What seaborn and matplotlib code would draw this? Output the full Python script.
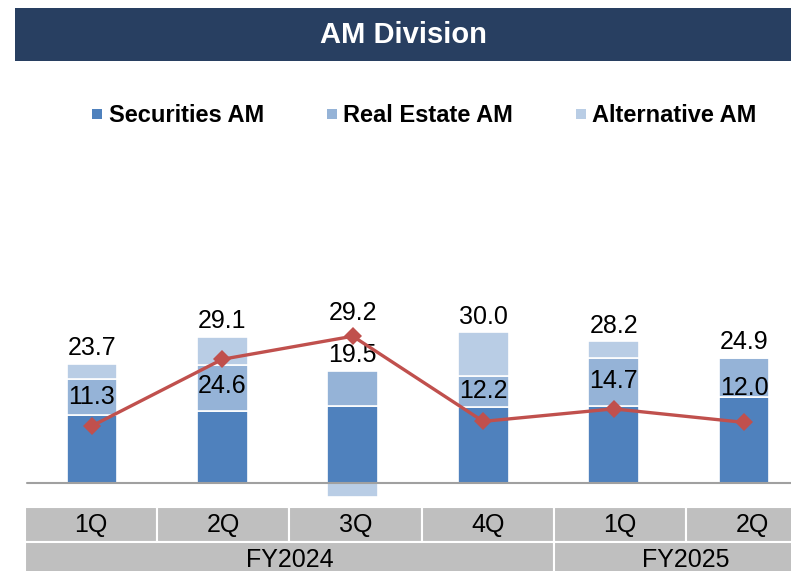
import numpy as np
import pandas as pd
import seaborn as sns
from matplotlib import pyplot as plt
from matplotlib.lines import Line2D
from matplotlib.patches import Rectangle

# data
periods = ["FY2024 1Q", "FY2024 2Q", "FY2024 3Q", "FY2024 4Q", "FY2025 1Q", "FY2025 2Q"]
quarter_labels = ["1Q", "2Q", "3Q", "4Q", "1Q", "2Q"]
fiscal_years = ["FY2024", "FY2025"]
fy_spans = [4, 2]
securities = [13.5, 14.3, 15.2, 15.0, 15.2, 17.0]
real_estate = [7.1, 9.2, 7.1, 6.2, 9.7, 7.9]
alternative = [3.1, 5.6, -2.8, 8.8, 3.3, 0.0]
totals = [23.7, 29.1, 19.5, 30.0, 28.2, 24.9]
line_values = [11.3, 24.6, 29.2, 12.2, 14.7, 12.0]

# styling
C_SEC, C_RE, C_ALT = "#4F81BD", "#95B3D7", "#B9CDE5"
C_LINE = "#C0504D"
C_BANNER = "#283F61"
C_CELL = "#BFBFBF"
line_label_dy = [21, -19.5, 17, 22, 20, 25]  # points, + above / - below marker

sns.set_theme(style="white")
plt.rcParams["font.family"] = ["Liberation Sans", "DejaVu Sans"]
plt.rcParams["text.color"] = "black"

W, H = 791, 571
fig = plt.figure(figsize=(W / 100, H / 100), dpi=100)

# title banner
fig.patches.append(Rectangle((15 / W, 1 - 61 / H), 1, 53 / H, transform=fig.transFigure,
                             facecolor=C_BANNER, edgecolor="none", zorder=0))
fig.text((15 + W) / 2 / W, 1 - 35 / H, "AM Division", color="white", fontsize=21,
         fontweight="bold", ha="center", va="center")

# main axes: x=0 at px 92, 130.4 px per category; baseline at px 482.5, 5.01 px per unit
top_px, bot_px = 130, 505
ax = fig.add_axes([0, 1 - bot_px / H, 1, (bot_px - top_px) / H])

df = pd.DataFrame({"period": periods, "sec": securities, "re": real_estate, "alt": alternative})
sec = np.array(securities)
re_ = np.array(real_estate)
alt = np.array(alternative)
alt_bottom = np.where(alt >= 0, sec + re_, 0.0)

bar_kw = dict(width=0.39, errorbar=None, saturation=1, edgecolor="white", linewidth=1.2, ax=ax)
sns.barplot(data=df, x="period", y="sec", color=C_SEC, **bar_kw)
sns.barplot(data=df, x="period", y="re", color=C_RE, bottom=sec, **bar_kw)
sns.barplot(data=df, x="period", y="alt", color=C_ALT, bottom=alt_bottom, **bar_kw)

x = np.arange(len(periods))
sns.lineplot(x=x, y=line_values, ax=ax, color=C_LINE, linewidth=2.4, marker="D",
             markersize=9, markeredgewidth=0, zorder=5)

ax.axhline(0, xmin=27 / W, color="#A0A0A0", linewidth=1.5, zorder=1)

pos_top = sec + re_ + np.clip(alt, 0, None)
for i in range(len(periods)):
    ax.annotate(f"{totals[i]:.1f}", (x[i], pos_top[i]), xytext=(0, 11),
                textcoords="offset points", ha="center", va="center", fontsize=18,
                color="black")
    ax.annotate(f"{line_values[i]:.1f}", (x[i], line_values[i]), xytext=(0, line_label_dy[i]),
                textcoords="offset points", ha="center", va="center", fontsize=18,
                color="black", zorder=6)

ax.set_xlim(-92 / 130.4, (W - 92) / 130.4)
ax.set_ylim(-(bot_px - 482.5) / 5.01, (482.5 - top_px) / 5.01)
ax.set_xlabel("")
ax.set_ylabel("")
ax.set_xticks([])
ax.set_yticks([])
sns.despine(ax=ax, left=True, bottom=True)

# legend
handles = [Line2D([], [], linestyle="none", marker="s", markersize=7.2, color=c, markeredgewidth=0)
           for c in (C_SEC, C_RE, C_ALT)]
leg = fig.legend(handles, ["Securities AM", "Real Estate AM", "Alternative AM"], ncol=3,
                 loc="center", bbox_to_anchor=(424 / W, 1 - 116 / H), frameon=False,
                 handlelength=0.5, handletextpad=0.25, columnspacing=2.6,
                 prop={"size": 17, "weight": "bold"}, labelcolor="black")

# category table under the bars
cell_w = 132.2
tab = fig.add_axes([25 / W, 1 - 578 / H, (W - 25) / W, (578 - 506.7) / H])
tab.set_xlim(0, (W - 25) / cell_w)
tab.set_ylim(2, 0)
tab.axis("off")
for i, q in enumerate(quarter_labels):
    tab.add_patch(Rectangle((i, 0), 1, 1, facecolor=C_CELL, edgecolor="white", linewidth=1.5))
    tab.text(i + 0.5, 0.5, q, ha="center", va="center", fontsize=18, color="black")
start = 0
for fy, span in zip(fiscal_years, fy_spans):
    tab.add_patch(Rectangle((start, 1), span, 1, facecolor=C_CELL, edgecolor="white", linewidth=1.5))
    tab.text(start + span / 2, 1.5, fy, ha="center", va="center", fontsize=18, color="black")
    start += span

fig.savefig("out.png", dpi=100)
